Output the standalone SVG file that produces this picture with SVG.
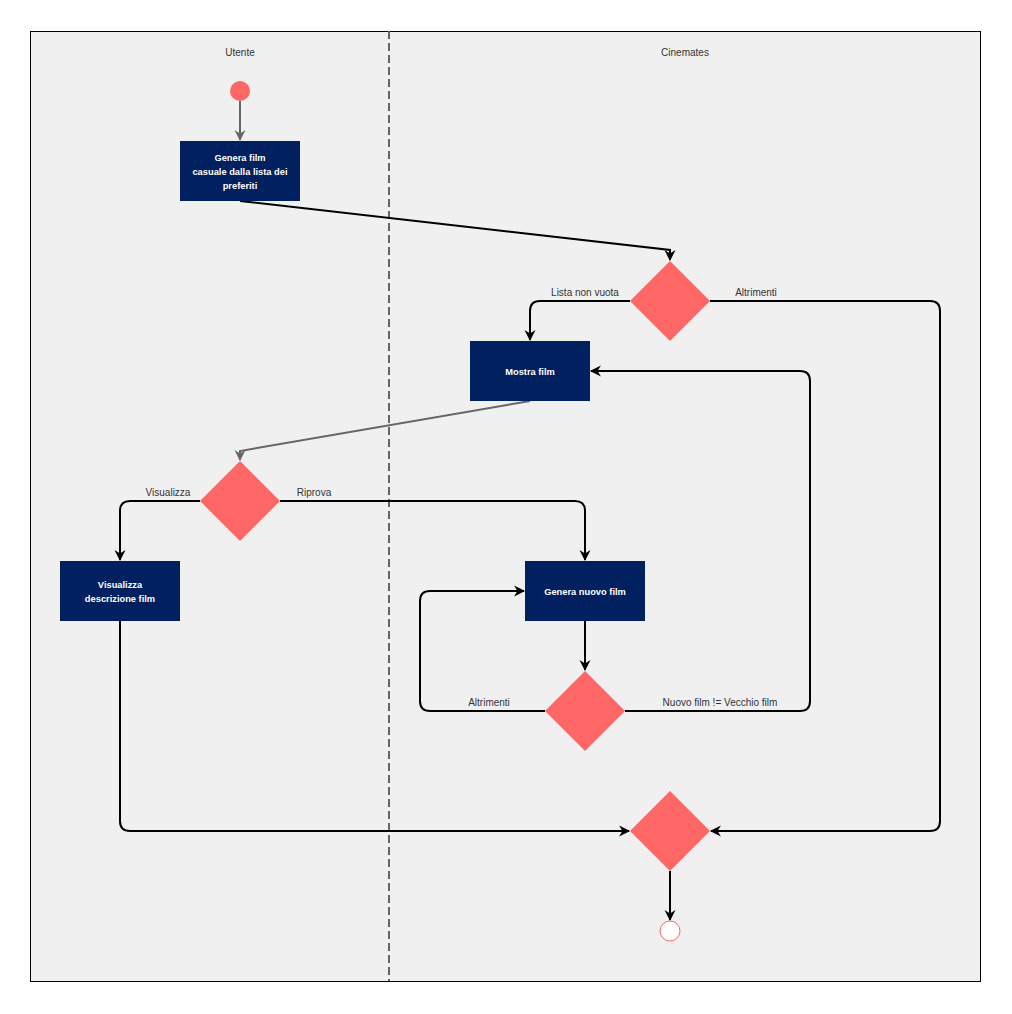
<svg xmlns="http://www.w3.org/2000/svg" width="1012" height="1014" viewBox="0 0 1012 1014">
  <style>
    .lane { fill: #f0f0f0; stroke: #000; stroke-width: 1; }
    .divider { stroke: #666; stroke-width: 2; stroke-dasharray: 8 4; fill: none; }
    .lane-title { font-family: "Liberation Sans", Arial, sans-serif; font-size: 10px; fill: #333; text-anchor: middle; }
    .action { fill: #002060; }
    .action-text { font-family: "Liberation Sans", Arial, sans-serif; font-size: 9.3px; font-weight: bold; fill: #fff; text-anchor: middle; }
    .decision { fill: #ff6666; }
    .edge { fill: none; stroke: #000; stroke-width: 2; }
    .edge-gray { fill: none; stroke: #666; stroke-width: 2; }
    .edge-label { font-family: "Liberation Sans", Arial, sans-serif; font-size: 10px; fill: #333; text-anchor: middle; }
  </style>
  <defs>
    <marker id="arrow" viewBox="0 0 10 10" refX="9" refY="5" markerWidth="11" markerHeight="11" markerUnits="userSpaceOnUse" orient="auto" overflow="visible">
      <path d="M0,0 L10,5 L0,10 L3,5 Z" fill="#000"/>
    </marker>
    <marker id="arrow-gray" viewBox="0 0 10 10" refX="9" refY="5" markerWidth="11" markerHeight="11" markerUnits="userSpaceOnUse" orient="auto" overflow="visible">
      <path d="M0,0 L10,5 L0,10 L3,5 Z" fill="#666"/>
    </marker>
  </defs>

  <!-- swimlane frame -->
  <g id="lanes">
    <rect class="lane" x="30.5" y="31.5" width="950" height="950"/>
    <line class="divider" x1="389" y1="31" x2="389" y2="981"/>
    <text class="lane-title" x="240" y="56">Utente</text>
    <text class="lane-title" x="685" y="56">Cinemates</text>
  </g>

  <!-- connectors -->
  <g id="connectors">
    <path class="edge-gray" d="M240,101 L240,140" marker-end="url(#arrow-gray)"/>
    <path class="edge" d="M240,201 L670,250 L670,260" marker-end="url(#arrow)"/>
    <path class="edge" d="M630,301 L540,301 Q530,301 530,311 L530,340" marker-end="url(#arrow)"/>
    <path class="edge" d="M710,301 L930,301 Q940,301 940,311 L940,821 Q940,831 930,831 L711,831" marker-end="url(#arrow)"/>
    <path class="edge-gray" d="M530,401 L240,451 L240,460" marker-end="url(#arrow-gray)"/>
    <path class="edge" d="M200,501 L130,501 Q120,501 120,511 L120,560" marker-end="url(#arrow)"/>
    <path class="edge" d="M280,501 L575,501 Q585,501 585,511 L585,560" marker-end="url(#arrow)"/>
    <path class="edge" d="M585,621 L585,670" marker-end="url(#arrow)"/>
    <path class="edge" d="M545,711 L430,711 Q420,711 420,701 L420,601 Q420,591 430,591 L524,591" marker-end="url(#arrow)"/>
    <path class="edge" d="M625,711 L800,711 Q810,711 810,701 L810,381 Q810,371 800,371 L591,371" marker-end="url(#arrow)"/>
    <path class="edge" d="M120,621 L120,821 Q120,831 130,831 L629,831" marker-end="url(#arrow)"/>
    <path class="edge" d="M670,871 L670,920" marker-end="url(#arrow)"/>

    <text class="edge-label" x="585" y="296">Lista non vuota</text>
    <text class="edge-label" x="756" y="296">Altrimenti</text>
    <text class="edge-label" x="168" y="496">Visualizza</text>
    <text class="edge-label" x="314" y="496">Riprova</text>
    <text class="edge-label" x="489" y="706">Altrimenti</text>
    <text class="edge-label" x="720" y="706">Nuovo film != Vecchio film</text>
  </g>

  <!-- nodes -->
  <g id="start">
    <circle cx="240" cy="91" r="10" fill="#ff6666"/>
  </g>
  <g id="genera-film">
    <rect class="action" x="180" y="141" width="120" height="60"/>
    <text class="action-text" x="240" y="161">Genera film</text>
    <text class="action-text" x="240" y="175">casuale dalla lista dei</text>
    <text class="action-text" x="240" y="189">preferiti</text>
  </g>
  <g id="check-lista">
    <polygon class="decision" points="670,261 710,301 670,341 630,301"/>
  </g>
  <g id="mostra-film">
    <rect class="action" x="470" y="341" width="120" height="60"/>
    <text class="action-text" x="530" y="375">Mostra film</text>
  </g>
  <g id="scelta-utente">
    <polygon class="decision" points="240,461 280,501 240,541 200,501"/>
  </g>
  <g id="visualizza-descrizione">
    <rect class="action" x="60" y="561" width="120" height="60"/>
    <text class="action-text" x="120" y="588">Visualizza</text>
    <text class="action-text" x="120" y="602">descrizione film</text>
  </g>
  <g id="genera-nuovo-film">
    <rect class="action" x="525" y="561" width="120" height="60"/>
    <text class="action-text" x="585" y="595">Genera nuovo film</text>
  </g>
  <g id="check-nuovo-film">
    <polygon class="decision" points="585,671 625,711 585,751 545,711"/>
  </g>
  <g id="merge">
    <polygon class="decision" points="670,791 710,831 670,871 630,831"/>
  </g>
  <g id="end">
    <circle cx="670" cy="931" r="10" fill="#fff" stroke="#ff6666" stroke-width="1"/>
  </g>
</svg>
